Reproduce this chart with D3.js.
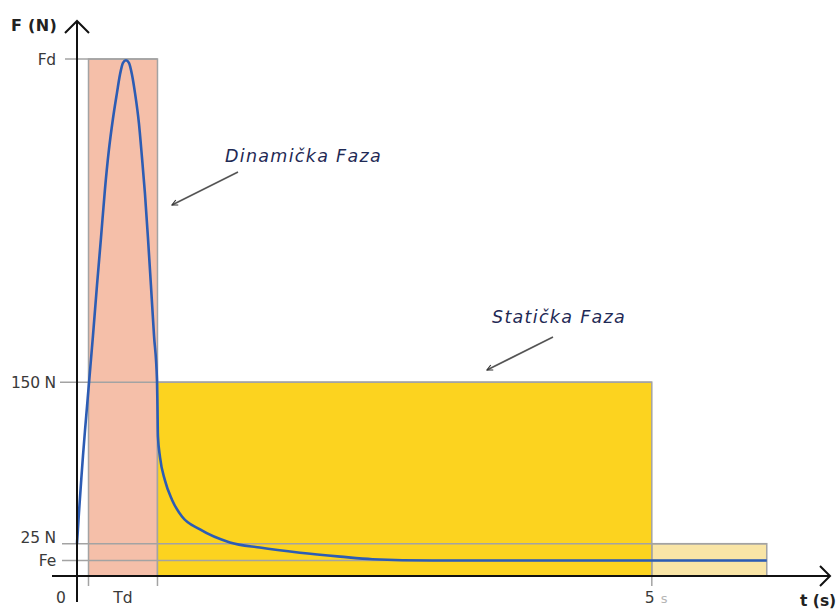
<!DOCTYPE html>
<html>
<head>
<meta charset="utf-8">
<script src="https://cdn.jsdelivr.net/npm/d3@7/dist/d3.min.js"></script>
<style>
  html, body { margin: 0; padding: 0; background: #fff; }
  svg { display: block; }
</style>
</head>
<body>
<svg id="chart" width="838" height="610"></svg>
<script>
// ---- data ----
const timeS  = [0, 0.017, 0.035, 0.052, 0.070, 0.087, 0.104, 0.139, 0.174, 0.209, 0.243, 0.278, 0.313, 0.348, 0.374, 0.400, 0.426,
                0.452, 0.478, 0.504, 0.539, 0.565, 0.591, 0.617, 0.643, 0.670, 0.696,
                0.700, 0.704, 0.722, 0.765, 0.826, 0.913, 1.07, 1.33, 1.59, 1.94, 2.29, 2.57, 3.09, 6.0];
const forceN = [25, 49, 72, 93, 113, 131, 149, 186, 225, 262, 299, 330, 354, 374, 388, 397, 399,
                397, 388, 374, 350, 324, 296, 262, 225, 186, 151,
                131, 108, 92, 74, 59, 46, 36, 26, 22, 18, 15, 13, 12, 12];

const FD = 400, F_STATIC = 150, F_25 = 25, FE = 12;
const T_START = 0.1, TD = 0.7, T_STATIC = 5, T_END = 6;

const yTickLabels = ["Fd", "150 N", "25 N", "Fe"];
const yTickValues = [FD, F_STATIC, F_25, FE];
const xTickLabels = ["0", "Td", "5"];
const xTickValues = [0, (T_START + TD) / 2, T_STATIC];
const axisTitles = ["F (N)", "t (s)"];
const annotations = ["Dinamička Faza", "Statička Faza"];

// ---- scales ----
const x = d3.scaleLinear().domain([0, 6.55]).range([77, 830]);
const y = d3.scaleLinear().domain([0, 400]).range([576, 59]);

const svg = d3.select("#chart");
const GRID = "#a3a3a3";

// phase rectangles
svg.append("rect")
  .attr("x", x(T_START)).attr("y", y(FD))
  .attr("width", x(TD) - x(T_START)).attr("height", y(0) - y(FD))
  .attr("fill", "#f5bfa9").attr("stroke", GRID).attr("stroke-width", 1.5);

svg.append("rect")
  .attr("x", x(T_STATIC)).attr("y", y(F_25))
  .attr("width", x(T_END) - x(T_STATIC)).attr("height", y(0) - y(F_25))
  .attr("fill", "#f9e5a6").attr("stroke", GRID).attr("stroke-width", 1.5);

svg.append("rect")
  .attr("x", x(TD)).attr("y", y(F_STATIC))
  .attr("width", x(T_STATIC) - x(TD)).attr("height", y(0) - y(F_STATIC))
  .attr("fill", "#fcd31f").attr("stroke", GRID).attr("stroke-width", 1.5);

// reference lines
const refLines = [
  {v: FD, x0: 65, t1: TD},
  {v: F_STATIC, x0: 60, t1: T_STATIC},
  {v: F_25, x0: 62, t1: T_END},
  {v: FE, x0: 62, t1: T_END}
];
svg.selectAll("line.ref").data(refLines).enter().append("line")
  .attr("class", "ref")
  .attr("x1", d => d.x0).attr("x2", d => x(d.t1))
  .attr("y1", d => y(d.v)).attr("y2", d => y(d.v))
  .attr("stroke", GRID).attr("stroke-width", 1.5);

// tick marks under x axis
svg.selectAll("line.xt").data([T_START, TD, T_STATIC]).enter().append("line")
  .attr("class", "xt")
  .attr("x1", d => x(d)).attr("x2", d => x(d))
  .attr("y1", y(0)).attr("y2", y(0) + 10)
  .attr("stroke", GRID).attr("stroke-width", 1.5);

// force curve
const pts = timeS.map((t, i) => [t, forceN[i]]);
svg.append("path")
  .datum(pts)
  .attr("d", d3.line().x(d => x(d[0])).y(d => y(d[1])).curve(d3.curveMonotoneX))
  .attr("fill", "none").attr("stroke", "#2c5cb4").attr("stroke-width", 2.6);

// axes
svg.append("line").attr("x1", x(0)).attr("x2", x(0)).attr("y1", 21).attr("y2", 602)
  .attr("stroke", "#111").attr("stroke-width", 2);
svg.append("line").attr("x1", 52).attr("x2", x(6.55)).attr("y1", y(0)).attr("y2", y(0))
  .attr("stroke", "#111").attr("stroke-width", 2);
svg.append("path").attr("d", `M${x(0)-12},${33} L${x(0)},${21} L${x(0)+12},${33}`)
  .attr("fill", "none").attr("stroke", "#111").attr("stroke-width", 2);
svg.append("path").attr("d", `M${x(6.55)-10},${y(0)-10} L${x(6.55)},${y(0)} L${x(6.55)-10},${y(0)+10}`)
  .attr("fill", "none").attr("stroke", "#111").attr("stroke-width", 2);

// y tick labels
const yOff = [0, 0, -6, 0];
svg.selectAll("text.yl").data(yTickLabels).enter().append("text")
  .attr("class", "yl")
  .attr("x", 56).attr("y", (d, i) => y(yTickValues[i]) + yOff[i])
  .attr("dy", "0.36em").attr("text-anchor", "end")
  .attr("font-family", "DejaVu Sans").attr("font-size", 15.5).attr("fill", "#3a3a3a")
  .attr("letter-spacing", -0.2)
  .text(d => d);

// x tick labels
const xOff = [-16, 0, -2];
svg.selectAll("text.xl").data(xTickLabels).enter().append("text")
  .attr("class", "xl")
  .attr("x", (d, i) => x(xTickValues[i]) + xOff[i]).attr("y", 603)
  .attr("text-anchor", "middle")
  .attr("font-family", "DejaVu Sans").attr("font-size", 15.5).attr("fill", "#3a3a3a")
  .text(d => d);
svg.append("text").attr("x", x(T_STATIC) + 9).attr("y", 603)
  .attr("font-family", "DejaVu Sans").attr("font-size", 13).attr("fill", "#b5b5b5")
  .text("s");

// axis titles
svg.append("text").attr("x", 11).attr("y", 31)
  .attr("font-family", "DejaVu Sans").attr("font-weight", "bold").attr("font-size", 16)
  .attr("letter-spacing", 0.3).attr("fill", "#222").text(axisTitles[0]);
svg.append("text").attr("x", 800).attr("y", 606)
  .attr("font-family", "DejaVu Sans").attr("font-weight", "bold").attr("font-size", 15.5)
  .attr("fill", "#222").text(axisTitles[1]);

// annotation arrows
const defs = svg.append("defs");
defs.append("marker").attr("id", "ah").attr("viewBox", "0 0 10 10")
  .attr("refX", 9).attr("refY", 5).attr("markerWidth", 7).attr("markerHeight", 7)
  .attr("orient", "auto").attr("markerUnits", "userSpaceOnUse")
  .append("path").attr("d", "M1,1 L9,5 L1,9").attr("fill", "none")
  .attr("stroke", "#333").attr("stroke-width", 1.6);

const arrows = [
  {x1: 238, y1: 172, x2: 172, y2: 205},
  {x1: 553, y1: 337, x2: 487, y2: 370}
];
svg.selectAll("line.ann").data(arrows).enter().append("line")
  .attr("class", "ann")
  .attr("x1", d => d.x1).attr("y1", d => d.y1).attr("x2", d => d.x2).attr("y2", d => d.y2)
  .attr("stroke", "#555").attr("stroke-width", 1.6).attr("marker-end", "url(#ah)");

const annPos = [{x: 225, y: 162}, {x: 492, y: 323}];
svg.selectAll("text.ann").data(annotations).enter().append("text")
  .attr("class", "ann")
  .attr("x", (d, i) => annPos[i].x).attr("y", (d, i) => annPos[i].y)
  .attr("font-family", "DejaVu Sans").attr("font-style", "italic").attr("font-size", 17.5)
  .attr("letter-spacing", 1.3).attr("fill", "#1f2a55")
  .text(d => d);
</script>
</body>
</html>
